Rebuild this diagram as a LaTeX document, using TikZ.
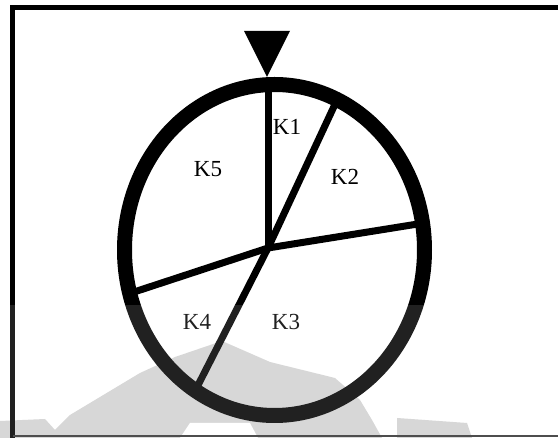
\documentclass[tikz,border=0pt]{standalone}
\usepackage{fontspec}
\setmainfont{Liberation Serif}
\begin{document}
\begin{tikzpicture}[x=1pt,y=-1pt,
  frameline/.style={line width=5.5pt,line cap=rect},
  ring/.style={line width=15pt},
  spoke/.style={line width=7pt},
  lbl/.style={inner sep=0pt,font=\fontsize{23}{27}\selectfont}]
\useasboundingbox (0,0) rectangle (558,438);
\fill[white] (0,0) rectangle (558,438);
% faint background watermark
\fill[gray!35!white!100] (0,438) -- (0,421) -- (45,419) -- (55,430) -- (70,415) -- (140,373)
  -- (175,357) -- (222,341) -- (270,362) -- (335,378) -- (360,400) -- (372,420) -- (382,438) -- cycle;
\fill[white] (180,438) -- (190,423) -- (250,423) -- (258,438) -- cycle;
\fill[gray!35] (397,438) -- (397,418) -- (467,423) -- (472,438) -- cycle;
% frame
\draw[frameline] (12.5,440) -- (12.5,7.7) -- (562,7.7);
\draw[line width=1.2pt,black!80] (12.5,436) -- (558,436);
% wheel
\coordinate (hub) at (268,248);
\coordinate (e1) at (268,86);
\coordinate (e2) at (337,100);
\coordinate (e3) at (424,223);
\coordinate (e4) at (193,395);
\coordinate (e5) at (128,294);
\foreach \e in {e1,e2,e3,e4,e5} \draw[spoke] (hub) -- (\e);
\draw[ring] (274.5,250) ellipse [x radius=150, y radius=165.5];
% pointer
\fill (244,31) -- (290,31) -- (267,77) -- cycle;
% labels
\node[lbl] (k1) at (287,127) {K1};
\node[lbl] (k2) at (345,177) {K2};
\node[lbl] (k3) at (286,322) {K3};
\node[lbl] (k4) at (197,322) {K4};
\node[lbl] (k5) at (208,169) {K5};
% watermark tint
\fill[white,opacity=0.13] (0,305) rectangle (558,438);
\end{tikzpicture}
\end{document}
